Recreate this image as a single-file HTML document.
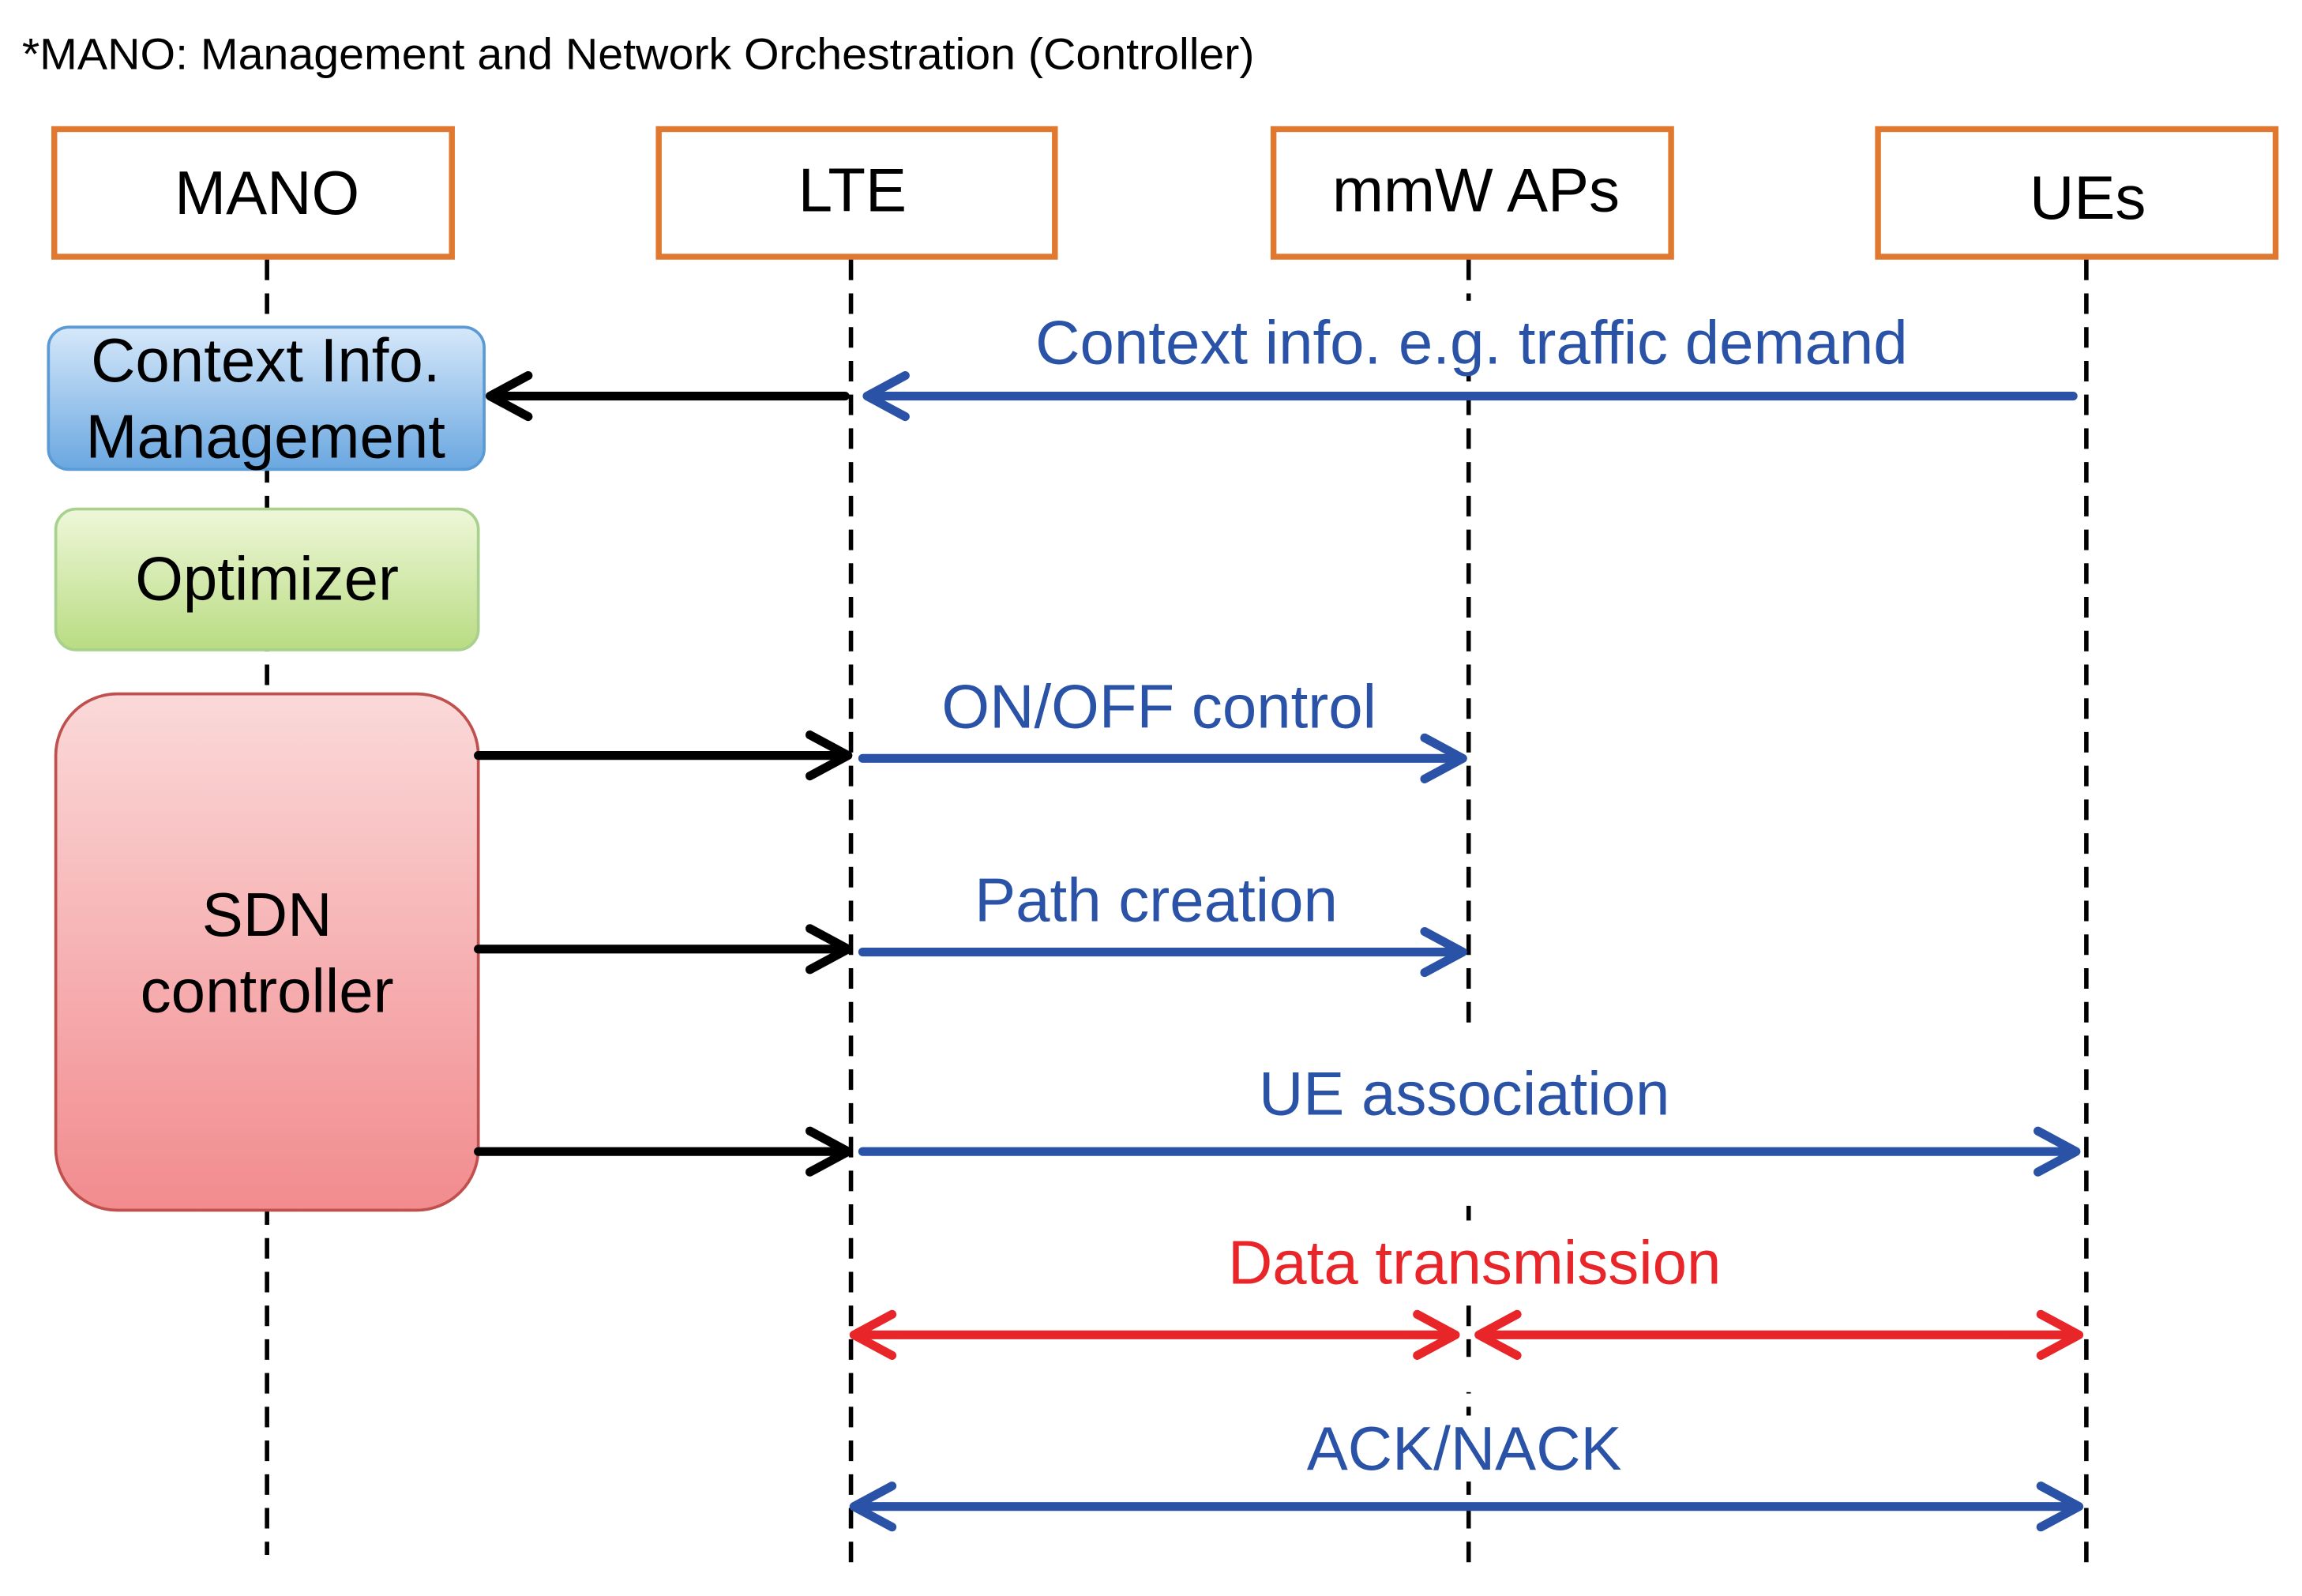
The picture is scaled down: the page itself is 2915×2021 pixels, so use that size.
<!DOCTYPE html>
<html><head><meta charset="utf-8"><style>html,body{margin:0;padding:0;background:#fff}svg{display:block}</style></head>
<body>
<svg width="2915" height="2021" viewBox="0 0 1569 1088" preserveAspectRatio="none" xmlns="http://www.w3.org/2000/svg" font-family="Liberation Sans, Arial, sans-serif">
<defs>
<linearGradient id="gb" x1="0" y1="0" x2="0" y2="1"><stop offset="0" stop-color="#d6e8fa"/><stop offset="1" stop-color="#6aa7e0"/></linearGradient>
<linearGradient id="gg" x1="0" y1="0" x2="0" y2="1"><stop offset="0" stop-color="#eef7d9"/><stop offset="1" stop-color="#b9dc82"/></linearGradient>
<linearGradient id="gp" x1="0" y1="0" x2="0" y2="1"><stop offset="0" stop-color="#fbd9d9"/><stop offset="1" stop-color="#f28b8e"/></linearGradient>
</defs>
<text x="15" y="47" font-size="30" textLength="840" lengthAdjust="spacingAndGlyphs">*MANO: Management and Network Orchestration (Controller)</text>
<g fill="none" stroke="#E07830" stroke-width="4">
<rect x="37" y="88" width="271" height="87"/>
<rect x="449" y="88" width="270" height="87"/>
<rect x="868" y="88" width="271" height="87"/>
<rect x="1280" y="88" width="271" height="87"/>
</g>
<g font-size="42" text-anchor="middle" fill="#000">
<text x="182" y="146">MANO</text>
<text x="581" y="144">LTE</text>
<text x="1006" y="144">mmW APs</text>
<text x="1423" y="149">UEs</text>
</g>
<g stroke="#000" stroke-width="3" stroke-dasharray="14,9" fill="none">
<line x1="182" y1="177" x2="182" y2="1060"/>
<line x1="580" y1="177" x2="580" y2="1072"/>
<line x1="1001" y1="177" x2="1001" y2="1072"/>
<line x1="1422" y1="177" x2="1422" y2="1072"/>
</g>
<g fill="#fff">
<rect x="985" y="205" width="32" height="50"/>
<rect x="985" y="700" width="32" height="122"/>
<rect x="985" y="925" width="32" height="24"/>
<rect x="985" y="965" width="32" height="45"/>
<rect x="985" y="832" width="32" height="50"/>
</g>
<rect x="33" y="223" width="297" height="97" rx="14" fill="url(#gb)" stroke="#5b9bd5" stroke-width="2"/>
<text x="181" y="260" font-size="42" text-anchor="middle">Context Info.</text>
<text x="181" y="312" font-size="42" text-anchor="middle">Management</text>
<rect x="38" y="347" width="288" height="96" rx="14" fill="url(#gg)" stroke="#a9d18e" stroke-width="2"/>
<text x="182" y="409" font-size="42" text-anchor="middle">Optimizer</text>
<rect x="38" y="473" width="288" height="352" rx="42" fill="url(#gp)" stroke="#c0504d" stroke-width="2"/>
<text x="182" y="638" font-size="42" text-anchor="middle">SDN</text>
<text x="182" y="690" font-size="42" text-anchor="middle">controller</text>
<g stroke-width="6" fill="none" stroke-linecap="round" stroke-linejoin="round">
<g stroke="#000">
<line x1="576" y1="270" x2="336" y2="270"/><polyline points="360,256 334,270 360,284"/>
<line x1="326" y1="515" x2="576" y2="515"/><polyline points="552,501 578,515 552,529"/>
<line x1="326" y1="647" x2="576" y2="647"/><polyline points="552,633 578,647 552,661"/>
<line x1="326" y1="785" x2="576" y2="785"/><polyline points="552,771 578,785 552,799"/>
</g>
<g stroke="#2A52A6">
<line x1="1413" y1="270" x2="593" y2="270"/><polyline points="617,256 591,270 617,284"/>
<line x1="588" y1="517" x2="995" y2="517"/><polyline points="971,503 997,517 971,531"/>
<line x1="588" y1="649" x2="995" y2="649"/><polyline points="971,635 997,649 971,663"/>
<line x1="588" y1="785" x2="1413" y2="785"/><polyline points="1389,771 1415,785 1389,799"/>
<line x1="584" y1="1027" x2="1415" y2="1027"/><polyline points="608,1013 582,1027 608,1041"/><polyline points="1391,1013 1417,1027 1391,1041"/>
</g>
<g stroke="#E8262A">
<line x1="584" y1="910" x2="990" y2="910"/><polyline points="608,896 582,910 608,924"/><polyline points="966,896 992,910 966,924"/>
<line x1="1010" y1="910" x2="1415" y2="910"/><polyline points="1034,896 1008,910 1034,924"/><polyline points="1391,896 1417,910 1391,924"/>
</g>
</g>
<g font-size="42" text-anchor="middle" fill="#2A52A6">
<text x="1003" y="248">Context info. e.g. traffic demand</text>
<text x="790" y="496">ON/OFF control</text>
<text x="788" y="628">Path creation</text>
<text x="998" y="760">UE association</text>
<text x="998" y="1002">ACK/NACK</text>
</g>
<text x="1005" y="875" font-size="42" text-anchor="middle" fill="#E8262A">Data transmission</text>
</svg>
</body></html>
